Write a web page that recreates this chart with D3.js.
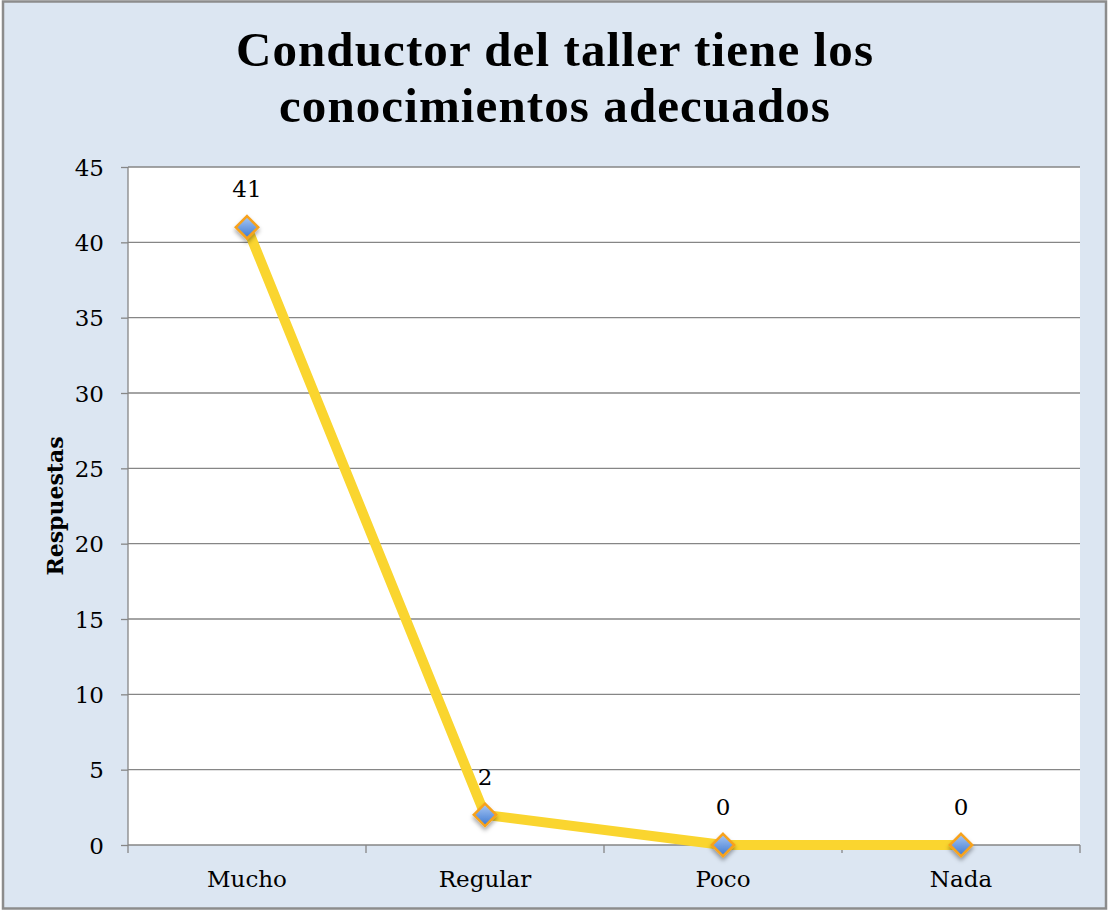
<!DOCTYPE html>
<html>
<head>
<meta charset="utf-8">
<script src="https://cdn.jsdelivr.net/npm/d3@7"></script>
<style>
  html, body { margin: 0; padding: 0; background: #fff; }
  svg { display: block; }
</style>
</head>
<body>
<svg id="chart" width="1109" height="911"></svg>
<script>
// Survey answers: "the workshop leader has adequate knowledge"
const categories = ["Mucho", "Regular", "Poco", "Nada"];
const respuestas = [41, 2, 0, 0];
const yTicks = [0, 5, 10, 15, 20, 25, 30, 35, 40, 45];
const titleLines = ["Conductor del taller tiene los", "conocimientos adecuados"];
const yAxisTitle = "Respuestas";

const W = 1109, H = 911;
const plot = { left: 128, right: 1080, top: 167, bottom: 845 };
const labelFont = "'DejaVu Serif', 'Liberation Serif', serif";
const titleFont = "'Liberation Serif', 'DejaVu Serif', serif";
const labelSize = 23;

const svg = d3.select("#chart");
const defs = svg.append("defs");

const grad = defs.append("linearGradient")
  .attr("id", "markerFill").attr("x1", 0).attr("y1", 0).attr("x2", 0).attr("y2", 1);
grad.append("stop").attr("offset", "0%").attr("stop-color", "#a9c8f5");
grad.append("stop").attr("offset", "100%").attr("stop-color", "#3d78d0");

const shadow = defs.append("filter").attr("id", "markerShadow")
  .attr("x", "-50%").attr("y", "-50%").attr("width", "200%").attr("height", "200%");
shadow.append("feDropShadow").attr("dx", 0).attr("dy", 3).attr("stdDeviation", 2)
  .attr("flood-color", "#000").attr("flood-opacity", 0.35);

// chart background and frame
svg.append("rect").attr("x", 3).attr("y", 1.5).attr("width", W - 6).attr("height", H - 4)
  .attr("fill", "#dce6f2").attr("stroke", "#8c8c8c").attr("stroke-width", 2.5);

// plot area
svg.append("rect").attr("x", plot.left).attr("y", plot.top)
  .attr("width", plot.right - plot.left).attr("height", plot.bottom - plot.top)
  .attr("fill", "#fff");

const x = d3.scaleBand().domain(categories).range([plot.left, plot.right]).padding(0);
const y = d3.scaleLinear().domain([0, 45]).range([plot.bottom, plot.top]);

// horizontal gridlines
svg.append("g").selectAll("line").data(yTicks.filter(d => d > 0)).join("line")
  .attr("x1", plot.left).attr("x2", plot.right)
  .attr("y1", d => y(d)).attr("y2", d => y(d))
  .attr("stroke", "#868686").attr("stroke-width", 1.3);

// y axis
const yAxis = svg.append("g").attr("transform", `translate(${plot.left},0)`)
  .call(d3.axisLeft(y).tickValues(yTicks).tickSize(7).tickPadding(17).tickFormat(d3.format("d")));
yAxis.select(".domain").attr("stroke", "#868686").attr("stroke-width", 1.3)
  .attr("d", `M0,${plot.top}V${plot.bottom}`);
yAxis.selectAll(".tick line").attr("stroke", "#868686").attr("stroke-width", 1.3);
yAxis.selectAll(".tick text").attr("font-family", labelFont).attr("font-size", labelSize)
  .attr("fill", "#000").attr("dy", "0.36em");

// x axis with ticks at category boundaries
const xAxis = svg.append("g").attr("transform", `translate(0,${plot.bottom})`);
xAxis.append("line").attr("x1", plot.left).attr("x2", plot.right)
  .attr("stroke", "#868686").attr("stroke-width", 1.3);
const bounds = categories.map(c => x(c)).concat([x(categories[categories.length - 1]) + x.bandwidth()]);
xAxis.selectAll("line.tk").data(bounds).join("line").attr("class", "tk")
  .attr("x1", d => d).attr("x2", d => d).attr("y1", 0).attr("y2", 8)
  .attr("stroke", "#868686").attr("stroke-width", 1.3);
xAxis.selectAll("text").data(categories).join("text")
  .attr("x", d => x(d) + x.bandwidth() / 2).attr("y", 42)
  .attr("text-anchor", "middle").attr("font-family", labelFont).attr("font-size", labelSize)
  .attr("fill", "#000").text(d => d);

// y axis title
svg.append("text")
  .attr("transform", `translate(63,${(plot.top + plot.bottom) / 2}) rotate(-90)`)
  .attr("text-anchor", "middle").attr("font-family", labelFont).attr("font-size", 22)
  .attr("font-weight", "bold").attr("fill", "#000").text(yAxisTitle);

// chart title
svg.append("g").selectAll("text").data(titleLines).join("text")
  .attr("x", 555).attr("y", (d, i) => 66 + i * 56)
  .attr("text-anchor", "middle").attr("font-family", titleFont).attr("font-size", 49)
  .attr("letter-spacing", 1.1)
  .attr("font-weight", "bold").attr("fill", "#000").text(d => d);

// series
const pts = categories.map((c, i) => ({ c, v: respuestas[i] }));
const line = d3.line().x(d => x(d.c) + x.bandwidth() / 2).y(d => y(d.v));
svg.append("path").datum(pts).attr("d", line)
  .attr("fill", "none").attr("stroke", "#fad52f").attr("stroke-width", 10)
  .attr("stroke-linejoin", "round");

const diamond = d3.symbol().type(d3.symbolDiamond2 || d3.symbolSquare).size(320);
svg.append("g").selectAll("path").data(pts).join("path")
  .attr("transform", d => `translate(${x(d.c) + x.bandwidth() / 2},${y(d.v)}) rotate(${d3.symbolDiamond2 ? 0 : 45})`)
  .attr("d", diamond)
  .attr("fill", "url(#markerFill)").attr("stroke", "#f7a21c").attr("stroke-width", 2.5)
  .attr("filter", "url(#markerShadow)");

// value labels
svg.append("g").selectAll("text").data(pts).join("text")
  .attr("x", d => x(d.c) + x.bandwidth() / 2).attr("y", d => y(d.v) - 30)
  .attr("text-anchor", "middle").attr("font-family", labelFont).attr("font-size", labelSize)
  .attr("fill", "#000").text(d => d.v);
</script>
</body>
</html>
